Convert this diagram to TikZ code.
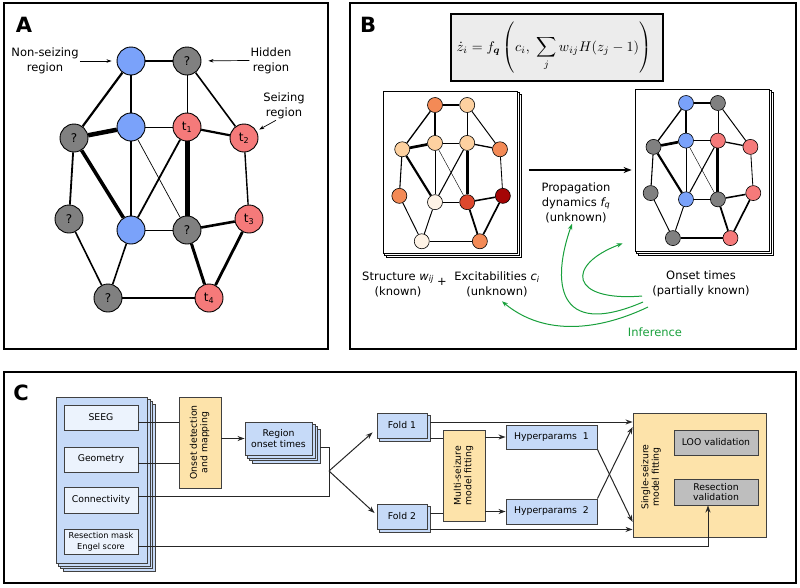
\documentclass[tikz,border=0pt]{standalone}
\usepackage{amsmath}
\usepackage[no-math]{fontspec}
\setmainfont{DejaVu Sans}
\usepackage{graphicx}
\usetikzlibrary{arrows.meta}
\pgfdeclarelayer{sheets}\pgfdeclarelayer{boxes}\pgfdeclarelayer{edges}
\pgfsetlayers{sheets,boxes,edges,main}

\definecolor{nblue}{RGB}{122,162,250}
\definecolor{nred}{RGB}{245,122,122}
\definecolor{ngray}{RGB}{128,128,128}
\definecolor{hO}{RGB}{243,138,86}
\definecolor{hP}{RGB}{253,209,160}
\definecolor{hL}{RGB}{254,243,230}
\definecolor{hR}{RGB}{222,72,45}
\definecolor{hD}{RGB}{165,5,5}
\definecolor{cboxblue}{RGB}{198,218,248}
\definecolor{cinner}{RGB}{236,243,253}
\definecolor{corange}{RGB}{253,227,170}
\definecolor{cgray}{RGB}{190,190,190}
\definecolor{fgray}{RGB}{236,236,236}
\definecolor{igreen}{RGB}{25,160,60}

\newcommand\myfA{\fontsize{12}{14}\selectfont}
\newcommand\myfB{\fontsize{11.5}{15}\selectfont}
\newcommand\myfC{\fontsize{9.3}{10.5}\selectfont}
\newcommand\myfCs{\fontsize{8.2}{11.5}\selectfont}

\tikzset{
  panel/.style={draw=black, line width=1.8pt},
  plabel/.style={font=\fontsize{21}{21}\selectfont\bfseries, inner sep=0pt},
  netnode/.style={circle, draw=black, inner sep=0pt, font=\myfA},
  alabel/.style={font=\myfB, align=center, inner sep=1pt},
  blabel/.style={font=\myfB, align=center, inner sep=1pt},
  aarrow/.style={-{Stealth[length=5pt,width=3.5pt]}, line width=0.7pt},
  barrow/.style={-{Stealth[length=8pt,width=6pt]}, line width=1.3pt},
  garrow/.style={-{Stealth[length=6pt,width=4.5pt]}, line width=1pt, draw=igreen},
  sheetbox/.style={draw=black, fill=white, line width=0.8pt},
  cbox/.style={draw=black!75, line width=0.9pt, inner sep=0pt, align=center, font=\myfC},
  cbluebox/.style={cbox, fill=cboxblue},
  cinnerbox/.style={cbox, fill=cinner},
  corangebox/.style={cbox, fill=corange},
  cgraybox/.style={cbox, fill=cgray},
  cline/.style={line width=1pt, draw=black!85},
  carrow/.style={-{Stealth[length=7pt,width=5pt]}, line width=1pt, draw=black!85},
}

\newcommand\netedges{bT/gT/2.2, bT/bM/2.6, bT/gL/2.2, gT/t1/1.0, gT/t2/1.6, gL/bM/4.5, bM/t1/1.0, t1/t2/2.2, gL/gF/1.8, gL/bB/3.6, bM/bB/1.6, bM/gM/0.7, t1/bB/1.8, t1/gM/5.0, t2/t3/1.4, bB/gM/1.0, gM/t3/2.6, gF/gB/1.6, bB/gB/1.6, gM/t4/3.0, t3/t4/2.8, gB/t4/2.2}

% #1 prefix, #2 origin, #3 scale, #4 node options, #5 edge width factor, #6 node list
\newcommand\drawnet[6]{%
  \begin{scope}[shift={(#2)}, scale=#3]
    \foreach \n/\px/\py/\c/\t in {#6}
      \node[netnode, #4, fill=\c] (#1\n) at (\px,\py) {\t};
  \end{scope}
  \begin{pgfonlayer}{edges}
    \foreach \a/\b/\w in \netedges
      \draw[line width={\w*#5*1pt}] (#1\a) -- (#1\b);
  \end{pgfonlayer}
}

% back sheets of a stack: #1 node, #2 offsets (largest first), #3 style
\newcommand\backsheets[3]{%
  \begin{pgfonlayer}{sheets}
    \foreach \d in {#2}
      \draw[#3] ([shift={(\d,\d)}]#1.north west) rectangle ([shift={(\d,\d)}]#1.south east);
  \end{pgfonlayer}
}

\begin{document}
\begin{tikzpicture}[x=1pt,y=-1pt]
\useasboundingbox (0,0) rectangle (800,587);

% ---------- frames ----------
\draw[panel] (4,3) rectangle (328,349);
\draw[panel] (350,3) rectangle (796,349);
\draw[panel] (4,372) rectangle (796,583);
\node[plabel] (lA) at (24,25) {A};
\node[plabel] (lB) at (368,25) {B};
\node[plabel] (lC) at (21,393) {C};

% ---------- Panel A ----------
\drawnet{a}{131,61}{1}{minimum size=28pt, line width=0.9pt}{1}{
 bT/0/0/nblue/{}, gT/56/0/ngray/?, bM/0/66/nblue/{}, t1/56/66/nred/{t\textsubscript{1}},
 gL/-57/77/ngray/?, t2/113/77/nred/{t\textsubscript{2}}, gF/-62/158/ngray/?, bB/0/169/nblue/{},
 gM/56/169/ngray/?, t3/118/158/nred/{t\textsubscript{3}}, gB/-23/237/ngray/?, t4/78/237/nred/{t\textsubscript{4}}}

\node[alabel] (nsl) at (45,61) {Non-seizing\\region};
\node[alabel] (hdl) at (271,60.5) {Hidden\\region};
\node[alabel] (szl) at (284,106) {Seizing\\region};
\draw[aarrow, shorten >=5pt] (nsl.east) -- (abT);
\draw[aarrow, shorten >=7pt] (hdl.west) -- (agT);
\draw[aarrow, shorten >=3pt] ([xshift=-8pt]szl.south) -- (at2);

% ---------- Panel B ----------
\node[draw=black, line width=1.5pt, fill=fgray, minimum width=212pt, minimum height=67pt, inner sep=0pt]
  (formula) at (557,47.5)
  {\scalebox{1.4}{$\displaystyle \dot z_i = f_{\boldsymbol q}\left(c_i,\ \sum_j w_{ij}H(z_j-1)\right)$}\hspace*{6pt}};

\begin{pgfonlayer}{boxes}
  \node[sheetbox, minimum width=134pt, minimum height=162pt] (lsheet) at (450,172) {};
  \node[sheetbox, minimum width=134pt, minimum height=162pt] (rsheet) at (702,170) {};
\end{pgfonlayer}
\backsheets{lsheet}{4,2}{sheetbox}
\backsheets{rsheet}{4,2}{sheetbox}

\drawnet{bl}{435,105}{0.575}{minimum size=15pt, line width=0.6pt}{0.6}{
 bT/0/0/hO/{}, gT/56/0/hP/{}, bM/0/66/hP/{}, t1/56/66/hP/{},
 gL/-57/77/hP/{}, t2/113/77/hO/{}, gF/-62/158/hO/{}, bB/0/169/hL/{},
 gM/56/169/hR/{}, t3/118/158/hD/{}, gB/-23/237/hL/{}, t4/78/237/hO/{}}

\drawnet{br}{686,103}{0.57}{minimum size=15pt, line width=0.6pt}{0.6}{
 bT/0/0/nblue/{}, gT/56/0/ngray/{}, bM/0/66/nblue/{}, t1/56/66/nred/{},
 gL/-57/77/ngray/{}, t2/113/77/nred/{}, gF/-62/158/ngray/{}, bB/0/169/nblue/{},
 gM/56/169/ngray/{}, t3/118/158/nred/{}, gB/-23/237/ngray/{}, t4/78/237/nred/{}}

\draw[barrow] ([xshift=12pt]lsheet.east |- rsheet.west) -- ([xshift=-3pt]rsheet.west);

\node[blabel] (strl) at (398,284) {Structure {\itshape w}\textsubscript{\itshape ij}\\(known)};
\node[blabel] (plus) at (442,282) {+};
\node[blabel] (excl) at (497,284.5) {Excitabilities {\itshape c}\textsubscript{\itshape i}\\(unknown)};
\node[blabel] (propl) at (576,202.5) {Propagation\\dynamics {\itshape f}\textsubscript{\itshape q}\\(unknown)};
\node[blabel] (onsl) at (701,283.5) {Onset times\\(partially known)};
\node[blabel, text=igreen] (infl) at (655,332) {Inference};

\coordinate (g1) at (642,296);
\coordinate (g2) at (643,302);
\coordinate (g3) at (648,307);
\draw[garrow] (g1) .. controls (570,302) and (565,265) .. ([xshift=-12pt,yshift=8pt]rsheet.south west);
\draw[garrow] (g2) .. controls (555,340) and (552,280) .. ([xshift=-4pt]propl.south);
\draw[garrow] (g3) .. controls (600,330) and (545,337) .. ([xshift=5pt,yshift=-3pt]excl.south);

% ---------- Panel C ----------
\node[cbluebox, minimum width=91pt, minimum height=166pt] (big) at (101.5,480) {};
\backsheets{big}{7.5,5,2.5}{cbluebox}
\node[cinnerbox, minimum width=74pt, minimum height=25pt] (seeg) at (101,417.5) {SEEG};
\node[cinnerbox, minimum width=74pt, minimum height=25pt] (geom) at (101,459.5) {Geometry};
\node[cinnerbox, minimum width=74pt, minimum height=26pt] (conn) at (101,500) {Connectivity};
\node[cinnerbox, minimum width=74pt, minimum height=25pt, font=\myfCs] (resec) at (101,541.5) {Resection mask\\Engel score};

\node[corangebox, minimum width=42pt, minimum height=91pt] (onset) at (200,442.5)
  {\rotatebox{90}{\begin{tabular}{@{}c@{}}Onset detection\\and mapping\end{tabular}}};

\node[cbluebox, minimum width=67pt, minimum height=33pt] (region) at (278.5,438.5) {Region\\onset times};
\backsheets{region}{7.5,5,2.5}{cbluebox}

\node[cbluebox, minimum width=50pt, minimum height=25pt] (fold1) at (402,425.5) {Fold 1};
\backsheets{fold1}{3}{cbluebox}
\node[cbluebox, minimum width=50pt, minimum height=25pt] (fold2) at (402,516.5) {Fold 2};
\backsheets{fold2}{3}{cbluebox}

\node[corangebox, minimum width=42pt, minimum height=91pt] (multi) at (464,475.5)
  {\rotatebox{90}{\begin{tabular}{@{}c@{}}Multi-seizure\\model fitting\end{tabular}}};

\node[cbluebox, minimum width=91pt, minimum height=24pt] (hyp1) at (551.5,437) {Hyperparams~~1};
\node[cbluebox, minimum width=91pt, minimum height=25pt] (hyp2) at (551.5,511.5) {Hyperparams~~2};

\node[corangebox, minimum width=133pt, minimum height=124pt] (single) at (699.5,475) {};
\node[font=\myfC, rotate=90, align=center, inner sep=0pt] (singlel) at (651,477) {Single-seizure\\model fitting};
\node[cgraybox, minimum width=84pt, minimum height=25pt] (loo) at (716,442.5) {LOO validation};
\node[cgraybox, minimum width=84pt, minimum height=26pt] (resval) at (716,492) {Resection\\validation};

% connectors
\draw[cline] ([yshift=-4.5pt]seeg.east) -- ([yshift=-4.5pt]seeg.east -| onset.west);
\draw[cline] ([yshift=-3.5pt]geom.east) -- ([yshift=-3.5pt]geom.east -| onset.west);
\draw[carrow] (onset.east |- region.west) -- (region.west);
\coordinate (jn) at (329,471);
\draw[cline] ([yshift=4pt]conn.east) -| (jn);
\draw[cline] ([xshift=8pt,yshift=-8.5pt]region.east) -| (jn);
\draw[carrow] (jn) -- ([xshift=-4pt,yshift=6pt]fold1.south west);
\draw[carrow] (jn) -- ([xshift=-2pt,yshift=3.5pt]fold2.west);

\draw[cline] ([xshift=3pt]fold1.south east) -- (multi.west |- fold1.south east);
\draw[carrow] ([xshift=3pt,yshift=3.5pt]fold1.east) -- ([yshift=3.5pt]single.west |- fold1.east);
\draw[cline] ([xshift=3pt,yshift=3.5pt]fold2.east) -- ([yshift=3.5pt]multi.west |- fold2.east);
\draw[carrow] ([xshift=3pt]fold2.south east) -- (single.west |- fold2.south east);

\draw[carrow] (multi.east |- hyp1.west) -- (hyp1.west);
\draw[carrow] (multi.east |- hyp2.west) -- (hyp2.west);
\draw[carrow] (hyp1.south east) -- ([yshift=-47pt]single.west);
\draw[carrow] (hyp2.north east) -- ([yshift=48pt]single.west);
\draw[carrow] ([yshift=-4.5pt]resec.east) -| ([xshift=-8pt]resval.south);

\end{tikzpicture}
\end{document}
